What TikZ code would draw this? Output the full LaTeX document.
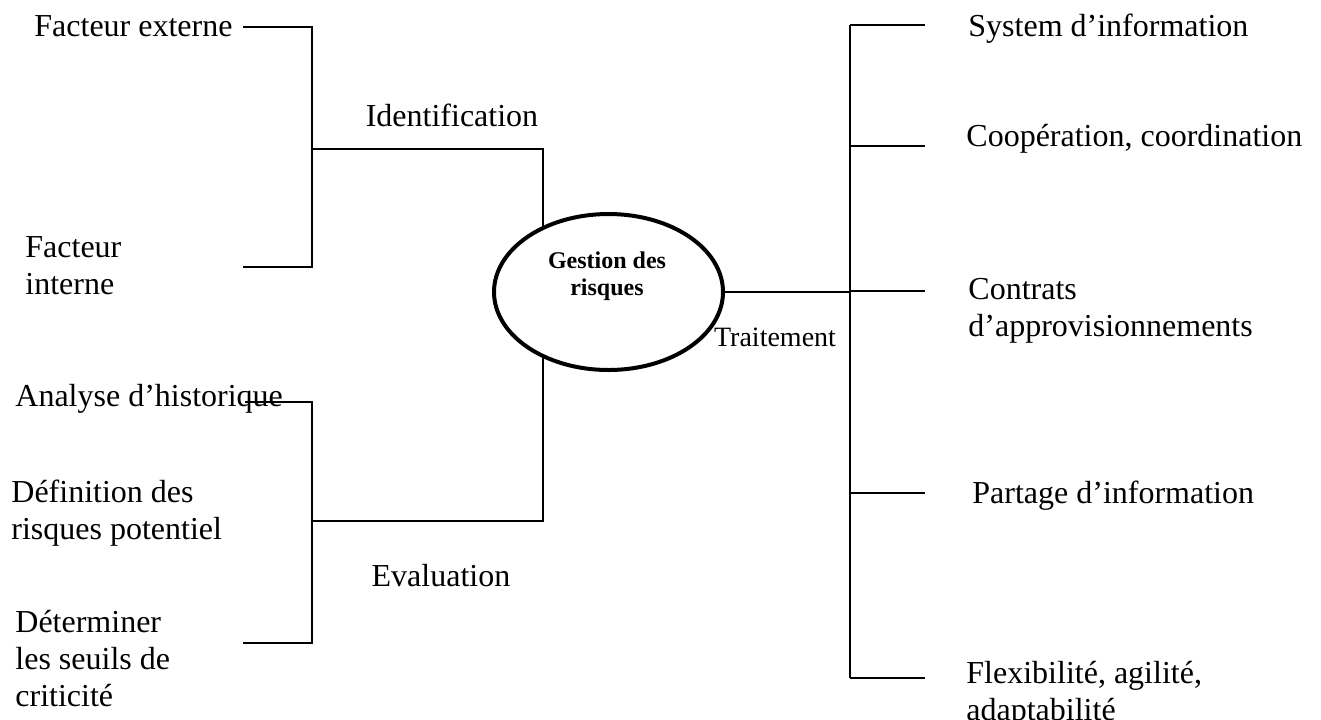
\documentclass[tikz,border=0pt]{standalone}
\usepackage{fontspec}
\setmainfont{Liberation Serif}
\usetikzlibrary{shapes.geometric}

\begin{document}
\begin{tikzpicture}[x=0.5pt,y=-0.5pt,
  txt/.style={inner sep=0pt,font=\fontsize{16}{18.5}\selectfont,align=left},
  lnk/.style={line width=1pt}]
  \useasboundingbox (0,0) rectangle (1321,719);
  % central ellipse
  \node[ellipse,draw,line width=2pt,minimum width=114.5pt,minimum height=78pt,inner sep=0pt] (gdr) at (608.5,292) {};
  \node[inner sep=0pt,font=\bfseries\fontsize{12}{13.5}\selectfont,align=center] (gdrtxt) at (607,276.5) {Gestion des\\risques};
  % identification branch
  \node[txt,anchor=base west] (fext) at (34,36.5) {Facteur externe};
  \node[txt,anchor=west] (fint) at (25,266) {Facteur\\interne};
  \node[txt,anchor=base] (ident) at (452,126) {Identification};
  \coordinate (idBar) at (312,149);
  \coordinate (feEnd) at (243,27);
  \coordinate (fiEnd) at (243,267);
  \draw[lnk] (feEnd) -- (feEnd -| idBar) |- (fiEnd);
  \draw[lnk] (gdr.135) |- (idBar);
  % evaluation branch
  \node[txt,anchor=base west] (anh) at (15,406) {Analyse d’historique};
  \node[txt,anchor=west] (defr) at (11,513) {Définition des\\risques potentiel};
  \node[txt,anchor=west] (det) at (15,659) {Déterminer\\les seuils de\\criticité};
  \node[txt,anchor=base] (eval) at (441,586) {Evaluation};
  \coordinate (evBar) at (312,521);
  \coordinate (ahEnd) at (245,402);
  \coordinate (dtEnd) at (243,643);
  \draw[lnk] (ahEnd) -- (ahEnd -| evBar) |- (dtEnd);
  \draw[lnk] (gdr.225) |- (evBar);
  % traitement branch
  \node[inner sep=0pt,font=\fontsize{14}{16}\selectfont,anchor=base] (trt) at (775,346) {Traitement};
  \coordinate (trTop) at (850,25);
  \coordinate (trBot) at (850,678);
  \draw[lnk] (trTop) -- (trBot);
  \draw[lnk] (gdr.east) -- (gdr.east -| trTop);
  \foreach \y [count=\i] in {25,146,291,493,678} {
    \coordinate (st\i) at (925,\y);
    \draw[lnk] (st\i -| trTop) -- (st\i);
  }
  \node[txt,anchor=base west] (sysi) at (968,36.5) {System d’information};
  \node[txt,anchor=base west] (coop) at (966,146) {Coopération, coordination};
  \node[txt,anchor=west] (contr) at (968,311) {Contrats\\d’approvisionnements};
  \node[txt,anchor=base west] (part) at (972,503) {Partage d’information};
  \node[txt,anchor=west] (flex) at (966,694) {Flexibilité, agilité,\\adaptabilité};
\end{tikzpicture}
\end{document}
